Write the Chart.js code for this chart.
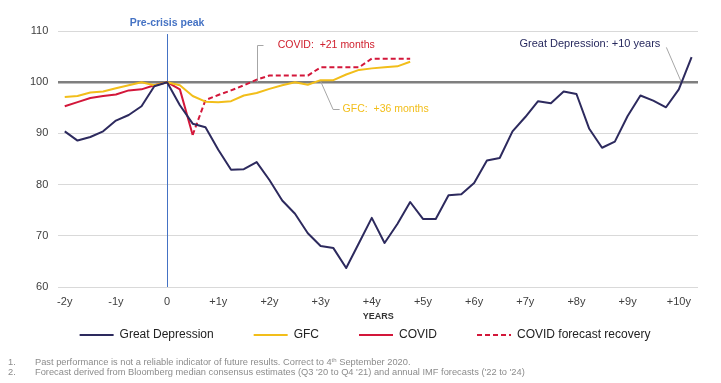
<!DOCTYPE html>
<html>
<head>
<meta charset="utf-8">
<script src="https://cdn.jsdelivr.net/npm/chart.js@4.4.1/dist/chart.umd.min.js"></script>
<style>
html,body{margin:0;padding:0;background:#fff;}
#wrap{position:relative;width:721px;height:383px;overflow:hidden;}
#c{position:absolute;left:0;top:0;}
.fn{position:absolute;left:0;width:721px;height:11px;font-family:"Liberation Sans",Arial,sans-serif;font-size:9.3px;color:#8c8c8c;white-space:nowrap;}
.fn .n{position:absolute;left:8px;top:0;}
.fn .t{position:absolute;left:35px;top:0;}
.fn sup{font-size:6px;vertical-align:top;line-height:6px;}
</style>
</head>
<body>
<div id="wrap">
<canvas id="c" width="721" height="383"></canvas>
<div class="fn" style="top:357px"><span class="n">1.</span><span class="t">Past performance is not a reliable indicator of future results. Correct to 4<sup>th</sup> September 2020.</span></div>
<div class="fn" style="top:367px"><span class="n">2.</span><span class="t">Forecast derived from Bloomberg median consensus estimates (Q3 '20 to Q4 '21) and annual IMF forecasts ('22 to '24)</span></div>
</div>
<script>
// Quarter offsets from the pre-crisis peak (-2y .. +10y 1q)
const quarters = [-8,-7,-6,-5,-4,-3,-2,-1,0,1,2,3,4,5,6,7,8,9,10,11,12,13,14,15,16,17,18,19,20,21,22,23,24,25,26,27,28,29,30,31,32,33,34,35,36,37,38,39,40,41];
// Tick labels shown every 4 quarters
const yearLabels = ['-2y','-1y','0','+1y','+2y','+3y','+4y','+5y','+6y','+7y','+8y','+9y','+10y'];

const greatDepression = [90.4,88.6,89.3,90.4,92.5,93.6,95.3,99.2,100,95.5,91.9,91.2,86.8,82.9,83.0,84.4,80.9,76.9,74.3,70.5,68.0,67.6,63.7,68.6,73.5,68.6,72.3,76.6,73.3,73.3,77.9,78.1,80.3,84.7,85.2,90.4,93.2,96.3,95.9,98.2,97.7,90.9,87.2,88.4,93.4,97.4,96.4,95.1,98.6,104.9];
const gfc = [97.1,97.3,98.0,98.2,98.8,99.4,100.0,99.4,100,99.4,97.3,96.2,96.1,96.3,97.4,97.9,98.7,99.4,100.0,99.5,100.4,100.4,101.5,102.4,102.7,102.9,103.1,104.0,
  null,null,null,null,null,null,null,null,null,null,null,null,null,null,null,null,null,null,null,null,null,null];
const covid = [95.3,96.1,96.9,97.3,97.6,98.4,98.6,99.4,100,98.6,89.7,
  null,null,null,null,null,null,null,null,null,null,null,null,null,null,null,null,null,null,null,null,null,null,null,null,null,null,null,null,null,null,null,null,null,null,null,null,null,null,null];
const covidForecast = [null,null,null,null,null,null,null,null,null,null,89.7,96.5,97.5,98.4,99.4,100.5,101.3,101.3,101.3,101.3,102.9,102.9,102.9,102.9,104.6,104.6,104.6,104.6,
  null,null,null,null,null,null,null,null,null,null,null,null,null,null,null,null,null,null,null,null,null,null];

const seriesNames = ['Great Depression','GFC','COVID','COVID forecast recovery'];
const annotationTexts = {
  peak: 'Pre-crisis peak',
  covid: 'COVID:  +21 months',
  gfc: 'GFC:  +36 months',
  gd: 'Great Depression: +10 years'
};

const FONT = '"Liberation Sans", Arial, sans-serif';
const NAVY = '#2d2a5e', GOLD = '#f2be1a', RED = '#d3173a';

const annot = {
  id: 'annot',
  afterLayout(chart) {
    if (chart.legend) { chart.legend.left += 6; chart.legend.right += 6; }
  },
  beforeDatasetsDraw(chart) {
    const {ctx, chartArea, scales: {x, y}} = chart;
    const step = x.getPixelForValue(1) - x.getPixelForValue(0);
    ctx.save();
    // vertical pre-crisis peak line
    const x0 = Math.round(x.getPixelForValue(8)) + 0.5;
    ctx.strokeStyle = '#4472c4';
    ctx.lineWidth = 1;
    ctx.beginPath();
    ctx.moveTo(x0, y.getPixelForValue(109.4));
    ctx.lineTo(x0, chartArea.bottom);
    ctx.stroke();
    // leader lines
    ctx.strokeStyle = '#a6a6a6';
    ctx.lineWidth = 1;
    // COVID (+21 months => quarter 7)
    const xc = Math.round(x.getPixelForValue(15)) + 0.5;
    const yc = Math.round(y.getPixelForValue(107.3)) + 0.5;
    ctx.beginPath();
    ctx.moveTo(xc, y.getPixelForValue(100));
    ctx.lineTo(xc, yc);
    ctx.lineTo(xc + 6, yc);
    ctx.stroke();
    // GFC (+36 months => quarter 12)
    const xg = x.getPixelForValue(20);
    const yg = Math.round(y.getPixelForValue(94.8)) + 0.5;
    ctx.beginPath();
    ctx.moveTo(xg, y.getPixelForValue(100.2));
    ctx.lineTo(xg + 12.5, yg);
    ctx.lineTo(xg + 19, yg);
    ctx.stroke();
    // Great Depression (+10 years => quarter 40)
    const xd = x.getPixelForValue(48) + 0.2 * step;
    ctx.beginPath();
    ctx.moveTo(xd, y.getPixelForValue(100));
    ctx.lineTo(xd - 15, y.getPixelForValue(106.8));
    ctx.stroke();
    ctx.restore();
  },
  afterDatasetsDraw(chart) {
    const {ctx, chartArea, scales: {x, y}} = chart;
    const step = x.getPixelForValue(1) - x.getPixelForValue(0);
    ctx.save();
    ctx.textBaseline = 'middle';
    // Pre-crisis peak
    ctx.font = 'bold 10.5px ' + FONT;
    ctx.fillStyle = '#4472c4';
    ctx.textAlign = 'center';
    ctx.fillText(annotationTexts.peak, x.getPixelForValue(8), chartArea.top - 8);
    ctx.font = '10.5px ' + FONT;
    ctx.textAlign = 'left';
    ctx.fillStyle = '#d0202e';
    ctx.fillText(annotationTexts.covid, x.getPixelForValue(15) + 21, y.getPixelForValue(107.3));
    ctx.fillStyle = '#f2be1a';
    ctx.fillText(annotationTexts.gfc, x.getPixelForValue(20) + 22, y.getPixelForValue(94.8));
    ctx.font = '11px ' + FONT;
    ctx.fillStyle = '#27295e';
    ctx.textAlign = 'right';
    ctx.fillText(annotationTexts.gd, x.getPixelForValue(48) + 0.2 * step - 21, y.getPixelForValue(107.5));
    ctx.restore();
  }
};

const pad = '         ';
new Chart(document.getElementById('c'), {
  type: 'line',
  data: {
    labels: quarters,
    datasets: [
      {label: seriesNames[0], data: greatDepression, borderColor: NAVY, backgroundColor: NAVY, borderWidth: 2},
      {label: seriesNames[1], data: gfc, borderColor: GOLD, backgroundColor: GOLD, borderWidth: 2},
      {label: seriesNames[2], data: covid, borderColor: RED, backgroundColor: RED, borderWidth: 2},
      {label: seriesNames[3], data: covidForecast, borderColor: RED, backgroundColor: RED, borderWidth: 2, borderDash: [5, 3]}
    ]
  },
  options: {
    responsive: false,
    animation: false,
    devicePixelRatio: 1,
    elements: {
      line: {tension: 0, borderJoinStyle: 'round'},
      point: {radius: 0, hoverRadius: 0, pointStyle: 'line'}
    },
    layout: {padding: {left: 20, right: 23, top: 31, bottom: 32}},
    scales: {
      x: {
        type: 'category',
        offset: true,
        grid: {display: false, drawTicks: false},
        border: {display: false},
        ticks: {
          autoSkip: false,
          maxRotation: 0,
          minRotation: 0,
          padding: 8,
          color: '#404040',
          font: {family: FONT, size: 11},
          callback: (v, i) => (i % 4 === 0 ? yearLabels[i / 4] : '')
        },
        title: {display: true, text: 'YEARS', color: '#333', font: {family: FONT, size: 9, weight: 'bold'}, padding: {top: -5, bottom: -3}}
      },
      y: {
        min: 60,
        max: 110,
        grid: {
          drawTicks: false,
          color: c => (c.tick && c.tick.value === 100 ? '#7f7f7f' : '#d9d9d9'),
          lineWidth: c => (c.tick && c.tick.value === 100 ? 2.5 : 1)
        },
        border: {display: false},
        ticks: {stepSize: 10, padding: 10, color: '#404040', font: {family: FONT, size: 11}}
      }
    },
    plugins: {
      tooltip: {enabled: false},
      legend: {
        position: 'bottom',
        labels: {
          usePointStyle: true,
          pointStyleWidth: 34,
          boxHeight: 12,
          padding: 10,
          color: '#222',
          font: {family: FONT, size: 12},
          generateLabels(chart) {
            const ds = chart.data.datasets;
            return ds.map((d, i) => ({
              text: d.label + (i < ds.length - 1 ? pad : ''),
              strokeStyle: d.borderColor,
              fillStyle: d.borderColor,
              lineWidth: 2,
              lineDash: d.borderDash || [],
              pointStyle: 'line',
              fontColor: '#222',
              hidden: false,
              datasetIndex: i
            }));
          }
        }
      }
    }
  },
  plugins: [annot]
});
</script>
</body>
</html>
